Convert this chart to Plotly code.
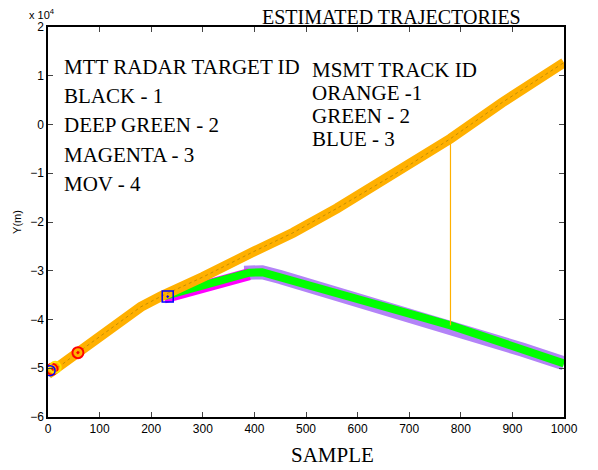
import plotly.graph_objects as go

# Track 1 (orange), sample vs Y in units of 1e4 m
orange_x = [0, 30, 60, 120, 180, 220, 260, 300, 400, 475, 560, 680, 780, 880, 1000]
orange_y = [-5.12, -4.9, -4.66, -4.2, -3.74, -3.52, -3.33, -3.13, -2.6, -2.22, -1.72, -0.97, -0.29, 0.45, 1.27]

# Track 2 (green)
green_x = [225, 260, 300, 350, 390, 415, 450, 500, 600, 700, 780, 850, 920, 1000]
green_y = [-3.52, -3.42, -3.3, -3.14, -3.04, -3.03, -3.13, -3.29, -3.6, -3.88, -4.12, -4.38, -4.62, -4.9]

# Magenta target (rising part)
mag_x = [225, 260, 300, 350, 390]
mag_y = [-3.55, -3.45, -3.33, -3.17, -3.07]

# MOV target (purple)
mov_x = [380, 415, 450, 500, 600, 700, 780, 850, 920, 1000]
mov_y = [-3.04, -3.03, -3.13, -3.29, -3.6, -3.88, -4.12, -4.38, -4.62, -4.9]

# Vertical association line
vline_x = [780, 780]
vline_y = [-0.29, -4.12]

# Point markers
red_x, red_y = [58, 8], [-4.68, -5.02]
yel_x, yel_y = [14], [-4.98]
blu_x, blu_y = [4], [-5.05]
sq_x, sq_y = [232], [-3.53]

title = "ESTIMATED TRAJECTORIES"
x_title = "SAMPLE"
left_text = ["MTT RADAR TARGET ID", "BLACK - 1", "DEEP GREEN - 2", "MAGENTA - 3", "MOV - 4"]
right_text = ["MSMT TRACK ID", "ORANGE -1", "GREEN - 2", "BLUE - 3"]

ORANGE = "#FFB000"
GREEN = "#00FF00"
PURPLE = "#B383F7"
MAGENTA = "#FF00FF"
SERIF = "Liberation Serif, Times New Roman, serif"

fig = go.Figure()
fig.add_trace(go.Scatter(x=mov_x, y=mov_y, mode="lines", line=dict(color=PURPLE, width=14)))
fig.add_trace(go.Scatter(x=mag_x, y=mag_y, mode="lines", line=dict(color=MAGENTA, width=12)))
fig.add_trace(go.Scatter(x=green_x, y=green_y, mode="lines", line=dict(color=GREEN, width=8)))
fig.add_trace(go.Scatter(x=orange_x, y=orange_y, mode="lines", line=dict(color=ORANGE, width=10)))
fig.add_trace(go.Scatter(x=orange_x, y=orange_y, mode="lines",
                         line=dict(color="rgba(60,60,0,0.3)", width=1, dash="dot")))
fig.add_trace(go.Scatter(x=vline_x, y=vline_y, mode="lines", line=dict(color=ORANGE, width=1.2)))
fig.add_trace(go.Scatter(x=red_x, y=red_y, mode="markers",
                         marker=dict(symbol="circle-open-dot", size=11, color="red", line=dict(width=2))))
fig.add_trace(go.Scatter(x=yel_x, y=yel_y, mode="markers",
                         marker=dict(symbol="circle-open", size=11, color="#FFE000", line=dict(width=2))))
fig.add_trace(go.Scatter(x=blu_x, y=blu_y, mode="markers",
                         marker=dict(symbol="circle-open", size=10, color="blue", line=dict(width=1.5))))
fig.add_trace(go.Scatter(x=sq_x, y=sq_y, mode="markers",
                         marker=dict(symbol="square-open-dot", size=11, color="blue", line=dict(width=1.5))))

L, R, T, B = 48, 34, 27, 53
W, H = 598, 470
pw, ph = W - L - R, H - T - B


def paper(px, py):
    return (px - L) / pw, 1 - (py - T) / ph


annotations = []
for i, t in enumerate(left_text):
    x, y = paper(62, 67 + i * 29.2)
    annotations.append(dict(x=x, y=y, text=t))
for i, t in enumerate(right_text):
    x, y = paper(310, 70 + i * 23)
    annotations.append(dict(x=x, y=y, text=t))
for a in annotations:
    a.update(xref="paper", yref="paper", showarrow=False, xanchor="left", yanchor="middle",
             font=dict(family=SERIF, size=21, color="black"))

tx, ty = paper(391, 17)
annotations.append(dict(x=tx, y=ty, xref="paper", yref="paper", text=title,
                        showarrow=False, xanchor="center", yanchor="middle",
                        font=dict(family=SERIF, size=20, color="black")))
sx, sy = paper(332, 455)
annotations.append(dict(x=sx, y=sy, xref="paper", yref="paper", text=x_title,
                        showarrow=False, xanchor="center", yanchor="middle",
                        font=dict(family=SERIF, size=21, color="black")))
ex, ey = paper(27, 14)
annotations.append(dict(x=ex, y=ey, xref="paper", yref="paper",
                        text="x 10<sup>4</sup>", showarrow=False, xanchor="left", yanchor="middle",
                        font=dict(family="Liberation Sans, Arial, sans-serif", size=11, color="black")))

fig.update_layout(
    width=W, height=H,
    margin=dict(l=L, r=R, t=T, b=B),
    paper_bgcolor="white", plot_bgcolor="white",
    showlegend=False,
    annotations=annotations,
    font=dict(family="Liberation Sans, Arial, sans-serif", size=12, color="black"),
)
fig.update_xaxes(range=[0, 1000], tickvals=list(range(0, 1001, 100)), ticks="inside", ticklen=5,
                 showline=True, linecolor="black", linewidth=1.5, mirror="ticks", showgrid=False,
                 zeroline=False, tickfont=dict(size=12))
fig.update_yaxes(range=[-6, 2], tickvals=list(range(-6, 3)), ticks="inside", ticklen=5,
                 showline=True, linecolor="black", linewidth=1.5, mirror="ticks", showgrid=False,
                 zeroline=False, tickfont=dict(size=12),
                 title=dict(text="Y(m)", font=dict(size=11), standoff=6))

fig.write_html("out.html")
